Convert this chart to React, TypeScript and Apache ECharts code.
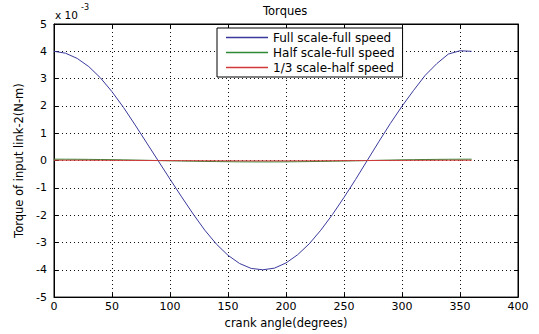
import React, { useEffect, useRef } from 'react';
import * as echarts from 'echarts';

// crank angle (degrees)
const crankAngle = [
  0, 10, 20, 30, 40, 50, 60, 70, 80, 90, 100, 110, 120, 130, 140, 150, 160, 170, 180,
  190, 200, 210, 220, 230, 240, 250, 260, 270, 280, 290, 300, 310, 320, 330, 340, 350, 360,
];

// torque values in units of 1e-3 N-m
const fullScaleFullSpeed = [
  4.0, 3.93, 3.74, 3.44, 3.03, 2.52, 1.94, 1.3, 0.64, -0.02, -0.68, -1.33, -1.96, -2.55,
  -3.06, -3.47, -3.77, -3.95, -4.0, -3.94, -3.75, -3.45, -3.05, -2.55, -1.98, -1.35, -0.69,
  0.0, 0.69, 1.36, 1.99, 2.57, 3.12, 3.55, 3.9, 4.02, 4.0,
];

const halfScaleFullSpeed = [
  0.05, 0.049, 0.047, 0.043, 0.038, 0.032, 0.025, 0.017, 0.009, 0.0, -0.009, -0.017,
  -0.025, -0.032, -0.038, -0.043, -0.047, -0.049, -0.05, -0.049, -0.047, -0.043, -0.038,
  -0.032, -0.025, -0.017, -0.009, 0.0, 0.009, 0.017, 0.025, 0.032, 0.038, 0.043, 0.047,
  0.049, 0.05,
];

const thirdScaleHalfSpeed = [
  0.012, 0.012, 0.011, 0.01, 0.009, 0.008, 0.006, 0.004, 0.002, 0.0, -0.002, -0.004,
  -0.006, -0.008, -0.009, -0.01, -0.011, -0.012, -0.012, -0.012, -0.011, -0.01, -0.009,
  -0.008, -0.006, -0.004, -0.002, 0.0, 0.002, 0.004, 0.006, 0.008, 0.009, 0.01, 0.011,
  0.012, 0.012,
];

const seriesNames = ['Full scale-full speed', 'Half scale-full speed', '1/3 scale-half speed'];
const seriesColors = ['#3a3a9e', '#2f8a36', '#d23a3a'];

const FONT = 'DejaVu Sans';

export default function App() {
  const ref = useRef<HTMLDivElement>(null);

  useEffect(() => {
    if (!ref.current) return;
    const chart = echarts.init(ref.current, undefined, { renderer: 'svg' });

    const values = [fullScaleFullSpeed, halfScaleFullSpeed, thirdScaleHalfSpeed];
    const gridLine = { show: true, lineStyle: { color: '#111', width: 1, type: [1, 3] as any } };
    const axisLine = { show: true, onZero: false, lineStyle: { color: '#000', width: 1 } };
    const tick = { show: true, inside: true, length: 4, lineStyle: { color: '#000' } };

    const option: any = {
      animation: false,
      backgroundColor: '#ffffff',
      color: seriesColors,
      textStyle: { fontFamily: FONT },
      title: {
        text: 'Torques',
        left: 263,
        top: 5,
        padding: 0,
        textStyle: { fontFamily: FONT, fontSize: 11.5, fontWeight: 'normal', color: '#000' },
      },
      grid: { left: 54, right: 21, top: 24, bottom: 33, show: true, borderColor: '#000', borderWidth: 1, backgroundColor: '#fff' },
      legend: {
        orient: 'vertical',
        left: 217,
        top: 28,
        padding: [2, 8, 2, 9],
        itemGap: 0,
        itemWidth: 42,
        itemHeight: 2,
        icon: 'path://M0,0h40v1.4h-40z',
        backgroundColor: '#fff',
        borderColor: '#000',
        borderWidth: 1,
        borderRadius: 0,
        textStyle: { fontFamily: FONT, fontSize: 12, color: '#000', lineHeight: 15 },
        data: seriesNames.map((n, i) => ({
          name: n,
          itemStyle: { color: seriesColors[i] },
        })),
      },
      xAxis: [
        {
          type: 'value',
          min: 0,
          max: 400,
          interval: 50,
          position: 'bottom',
          axisLine,
          axisTick: tick,
          axisLabel: { color: '#000', fontSize: 11, fontFamily: FONT, margin: 4 },
          splitLine: gridLine,
          name: 'crank angle(degrees)',
          nameLocation: 'middle',
          nameGap: 18,
          nameTextStyle: { color: '#000', fontSize: 11.5, fontFamily: FONT },
        },
        {
          type: 'value',
          min: 0,
          max: 400,
          interval: 50,
          position: 'top',
          axisLine,
          axisTick: tick,
          axisLabel: { show: false },
          splitLine: { show: false },
        },
      ],
      yAxis: [
        {
          type: 'value',
          min: -5,
          max: 5,
          interval: 1,
          position: 'left',
          axisLine,
          axisTick: tick,
          axisLabel: { color: '#000', fontSize: 11, fontFamily: FONT, margin: 7 },
          splitLine: gridLine,
          name: 'Torque of input link-2(N-m)',
          nameLocation: 'middle',
          nameGap: 17,
          nameTextStyle: { color: '#000', fontSize: 11.5, fontFamily: FONT },
        },
        {
          type: 'value',
          min: -5,
          max: 5,
          interval: 1,
          position: 'right',
          axisLine,
          axisTick: tick,
          axisLabel: { show: false },
          splitLine: { show: false },
        },
      ],
      graphic: [
        {
          type: 'text',
          left: 55,
          top: 9,
          style: { text: 'x 10', fontFamily: FONT, fontSize: 10.5, fill: '#000' },
        },
        {
          type: 'text',
          left: 81,
          top: 3,
          style: { text: '-3', fontFamily: FONT, fontSize: 8, fill: '#000' },
        },
      ],
      series: values.map((vals, i) => ({
        name: seriesNames[i],
        type: 'line',
        xAxisIndex: 0,
        yAxisIndex: 0,
        color: seriesColors[i],
        symbol: 'none',
        showSymbol: false,
        lineStyle: { color: seriesColors[i], width: 1 },
        itemStyle: { color: seriesColors[i] },
        data: crankAngle.map((a, k) => [a, vals[k]]),
        z: 2 + i,
      })),
    };

    chart.setOption(option);
    return () => chart.dispose();
  }, []);

  return (
    <div
      ref={ref}
      style={{ position: 'fixed', left: 0, top: 0, width: 539, height: 334, background: '#fff' }}
    />
  );
}
